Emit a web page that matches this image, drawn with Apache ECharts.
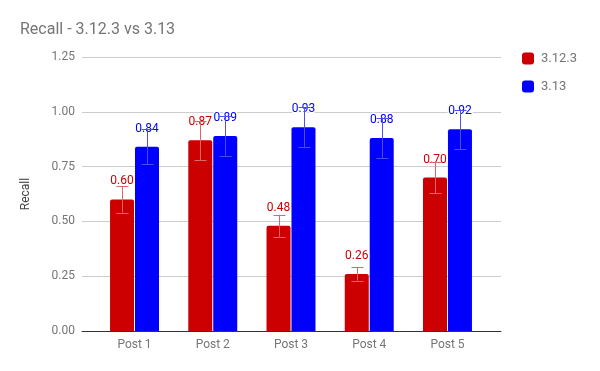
<!DOCTYPE html>
<html><head><meta charset="utf-8">
<script src="https://cdn.jsdelivr.net/npm/echarts@6/dist/echarts.min.js"></script>
<style>html,body{margin:0;padding:0;background:#fff}#c{width:600px;height:371px}</style>
</head><body><div id="c"></div>
<script>
const categories = ['Post 1', 'Post 2', 'Post 3', 'Post 4', 'Post 5'];
const seriesNames = ['3.12.3', '3.13'];
const recallOld = [0.60, 0.87, 0.48, 0.26, 0.70];
const recallNew = [0.84, 0.89, 0.93, 0.88, 0.92];
const errOld = [0.06, 0.09, 0.05, 0.03, 0.07];
const errNew = [0.08, 0.09, 0.09, 0.09, 0.09];
const yTicks = [0, 0.25, 0.5, 0.75, 1.0, 1.25];

const FONT = 'Roboto';
const colors = ['#cc0000', '#0000ff'];
const errColors = ['#e06666', '#4d4dff'];

function errSeries(name, vals, errs, dx, color) {
  return {
    type: 'custom', name: name + ' err', xAxisIndex: 1, yAxisIndex: 1, z: 3,
    silent: true,
    data: vals.map((v, i) => [i, v - errs[i], v + errs[i]]),
    renderItem: function (params, api) {
      const lo = api.coord([api.value(0), api.value(1)]);
      const hi = api.coord([api.value(0), api.value(2)]);
      const x = Math.round(lo[0] + dx) + 0.5;
      const cw = 6;
      const st = { stroke: color, lineWidth: 1 };
      return { type: 'group', children: [
        { type: 'line', shape: { x1: x, y1: hi[1], x2: x, y2: lo[1] }, style: st },
        { type: 'line', shape: { x1: x - cw, y1: Math.round(hi[1]) + 0.5, x2: x + cw, y2: Math.round(hi[1]) + 0.5 }, style: st },
        { type: 'line', shape: { x1: x - cw, y1: Math.round(lo[1]) + 0.5, x2: x + cw, y2: Math.round(lo[1]) + 0.5 }, style: st }
      ]};
    }
  };
}

function barLabel(color) {
  return { show: true, position: 'top', distance: 12, fontFamily: FONT, fontSize: 12,
    color: color, textBorderColor: '#ffffff', textBorderWidth: 3,
    formatter: p => p.value.toFixed(2) };
}

const chart = echarts.init(document.getElementById('c'), null, { renderer: 'canvas' });
chart.setOption({
  animation: false,
  textStyle: { fontFamily: FONT },
  title: {
    text: 'Recall - 3.12.3 vs 3.13', left: 20, top: 22, padding: 0,
    textStyle: { fontFamily: FONT, fontSize: 16, fontWeight: 'normal', color: '#757575' }
  },
  legend: {
    data: seriesNames, orient: 'vertical', left: 522, top: 52, padding: 0,
    itemWidth: 12, itemHeight: 12, itemGap: 15,
    icon: 'roundRect',
    textStyle: { fontFamily: FONT, fontSize: 13, color: '#757575', padding: [0, 0, 0, 2] }
  },
  grid: [
    { left: 82, right: 99, top: 57, bottom: 40 },
    { left: 95.4, right: 113.4, top: 57, bottom: 40 }
  ],
  xAxis: [
    { type: 'category', gridIndex: 0, data: categories,
      axisLine: { lineStyle: { color: '#333', width: 1 } },
      axisTick: { show: false }, axisLabel: { show: false }, z: 5 },
    { type: 'category', gridIndex: 1, data: categories,
      axisLine: { show: false }, axisTick: { show: false },
      axisLabel: { fontFamily: FONT, fontSize: 12, color: '#757575', margin: 8 } }
  ],
  yAxis: [
    { type: 'value', gridIndex: 0, min: 0, max: 1.25, interval: 0.25,
      name: 'Recall', nameLocation: 'middle', nameGap: 50, nameRotate: 90,
      nameTextStyle: { fontFamily: FONT, fontSize: 12, color: '#444' },
      axisLine: { show: false }, axisTick: { show: false },
      axisLabel: { fontFamily: FONT, fontSize: 12, color: '#757575', margin: 7,
        formatter: v => v.toFixed(2) },
      splitLine: { lineStyle: { color: '#cccccc' } } },
    { type: 'value', gridIndex: 1, min: 0, max: 1.25, interval: 0.25, show: false,
      splitLine: { show: false } }
  ],
  series: [
    { type: 'bar', name: seriesNames[0], data: recallOld, xAxisIndex: 1, yAxisIndex: 1,
      barWidth: 24, barGap: '4%', itemStyle: { color: colors[0], borderRadius: [2, 2, 0, 0] },
      label: barLabel(colors[0]), z: 2 },
    { type: 'bar', name: seriesNames[1], data: recallNew, xAxisIndex: 1, yAxisIndex: 1,
      barWidth: 24, barGap: '4%', itemStyle: { color: colors[1], borderRadius: [2, 2, 0, 0] },
      label: barLabel(colors[1]), z: 2 },
    errSeries(seriesNames[0], recallOld, errOld, -12.5, errColors[0]),
    errSeries(seriesNames[1], recallNew, errNew, 12.5, errColors[1])
  ]
});
</script></body></html>
